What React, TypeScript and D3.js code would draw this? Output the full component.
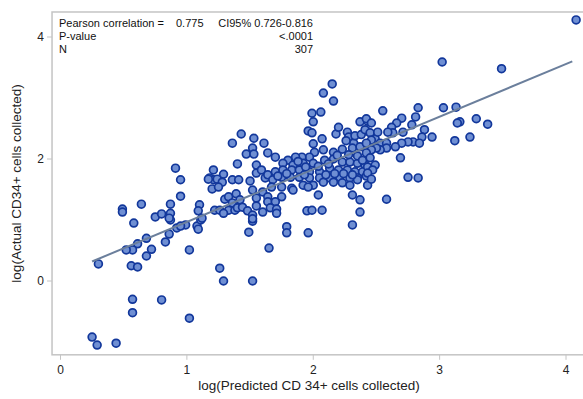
import React from 'react';
import * as d3 from 'd3';

const points: [number, number][] = [
  [0.25, -0.92], [0.29, -1.05], [0.44, -1.02], [0.30, 0.28], [0.57, -0.30], [0.57, -0.52],
  [0.80, -0.31], [1.02, -0.61], [1.29, 0.0], [1.52, 0.0], [1.26, 0.21], [0.56, 0.25],
  [0.61, 0.23], [0.68, 0.41], [0.72, 0.52], [0.61, 0.61], [0.57, 0.51], [0.52, 0.51],
  [0.68, 0.70], [0.83, 0.64], [0.86, 0.77], [0.92, 0.87], [0.99, 0.92], [1.08, 0.90],
  [1.09, 0.85], [1.02, 0.51], [1.11, 1.00], [0.58, 0.95], [0.75, 1.05], [0.87, 1.00],
  [1.49, 0.80], [1.52, 0.98], [1.65, 0.54], [1.79, 0.89], [1.79, 0.79], [1.96, 0.79],
  [2.31, 0.92], [2.58, 1.34], [0.49, 1.18], [0.49, 1.13], [0.64, 1.26], [0.80, 1.10],
  [0.87, 1.26], [0.87, 1.11], [0.86, 1.03], [0.91, 1.85], [0.95, 1.66], [0.95, 1.39],
  [1.10, 1.25], [1.09, 1.15], [1.12, 1.03], [0.95, 0.90],
  [1.36, 2.26], [1.43, 2.41], [1.53, 2.34], [1.61, 2.26], [1.52, 2.18], [1.47, 2.08],
  [1.53, 2.08], [1.64, 2.10], [1.40, 1.92], [1.55, 1.90], [1.21, 1.82], [1.29, 1.75],
  [1.18, 1.69], [1.21, 1.66], [1.24, 1.67], [1.28, 1.62], [1.36, 1.66], [1.41, 1.66],
  [1.50, 1.64], [1.55, 1.77], [1.59, 1.82], [1.62, 1.69], [1.64, 1.74], [1.20, 1.51],
  [1.25, 1.54], [1.52, 1.49], [1.60, 1.46], [1.64, 1.38], [1.30, 1.34], [1.33, 1.38],
  [1.39, 1.43], [1.36, 1.28], [1.42, 1.33], [1.55, 1.36], [1.22, 1.16], [1.26, 1.16],
  [1.33, 1.16], [1.38, 1.16], [1.40, 1.20], [1.44, 1.21], [1.48, 1.15], [1.55, 1.23],
  [1.60, 1.13], [1.52, 1.08], [1.52, 1.02], [1.29, 1.11], [1.17, 1.67],
  [2.15, 3.23], [2.08, 3.08], [2.16, 2.95], [1.99, 2.75], [2.06, 2.77], [2.00, 2.61],
  [1.96, 2.46], [1.99, 2.43], [2.07, 2.33], [2.18, 2.41], [2.20, 2.52], [2.27, 2.44],
  [2.28, 2.36], [2.37, 2.61], [2.43, 2.62], [2.42, 2.46], [2.32, 2.26], [2.31, 2.18],
  [2.37, 2.20], [2.43, 2.16], [2.23, 2.16], [2.16, 2.11], [2.08, 2.15], [2.01, 2.11],
  [1.97, 2.03], [1.91, 2.03], [1.86, 2.03], [1.80, 1.98], [1.76, 1.93], [1.84, 1.90],
  [1.92, 1.93], [2.00, 1.93], [2.09, 1.98], [2.16, 2.00], [2.23, 1.95], [2.29, 1.95],
  [2.35, 1.93], [2.41, 1.90], [1.70, 2.03], [2.00, 2.25], [1.70, 1.79], [1.76, 1.82],
  [1.83, 1.82], [1.89, 1.82], [1.97, 1.79], [2.05, 1.79], [2.13, 1.85], [2.20, 1.82],
  [2.27, 1.82], [2.33, 1.79], [2.39, 1.79], [1.68, 1.66], [1.75, 1.70], [1.82, 1.70],
  [1.89, 1.70], [1.97, 1.69], [2.05, 1.69], [2.13, 1.69], [2.21, 1.70], [2.29, 1.69],
  [2.35, 1.69], [2.42, 1.72], [1.67, 1.54], [1.75, 1.54], [1.83, 1.52], [1.92, 1.57],
  [2.00, 1.57], [2.08, 1.62], [2.16, 1.62], [2.23, 1.61], [2.29, 1.57], [2.35, 1.66],
  [2.43, 1.57], [1.75, 1.38], [1.84, 1.49], [1.96, 1.54], [2.04, 1.41], [2.31, 1.41],
  [2.37, 1.33], [1.64, 1.30], [1.70, 1.30], [1.66, 1.20], [1.71, 1.18], [1.71, 1.11],
  [1.95, 1.15], [1.99, 1.16], [2.07, 1.16], [2.37, 1.13],
  [2.26, 2.30], [2.33, 2.38], [2.38, 2.40], [2.35, 2.05], [2.28, 2.07], [2.19, 2.06],
  [2.12, 1.92], [2.04, 1.88], [1.94, 1.87], [1.88, 1.96], [2.24, 1.76], [2.31, 1.74],
  [2.17, 1.76], [2.10, 1.74], [1.93, 1.74], [1.79, 1.76], [1.72, 1.72], [2.39, 1.98],
  [2.45, 2.22], [2.49, 2.33],
  [2.55, 2.79], [2.83, 2.84], [3.03, 2.84], [3.13, 2.85], [2.81, 2.69], [2.70, 2.67],
  [2.42, 2.66], [2.46, 2.59], [2.66, 2.59], [2.62, 2.52], [2.78, 2.56], [2.88, 2.48],
  [3.16, 2.61], [3.14, 2.59], [3.29, 2.66], [3.38, 2.57], [2.94, 2.36], [2.86, 2.36],
  [2.79, 2.28], [2.75, 2.28], [2.70, 2.26], [2.63, 2.43], [2.59, 2.44], [2.41, 2.48],
  [2.45, 2.43], [2.51, 2.44], [2.46, 2.31], [2.42, 2.26], [2.53, 2.26], [2.58, 2.26],
  [2.65, 2.20], [2.58, 2.18], [2.53, 2.15], [2.50, 2.18], [2.46, 2.15], [2.42, 2.10],
  [2.84, 2.26], [2.71, 2.44], [3.12, 2.30], [3.24, 2.36], [2.45, 2.02], [2.43, 1.87],
  [2.49, 1.90], [2.47, 1.82], [2.43, 1.77], [2.46, 1.67], [2.69, 2.02], [2.75, 1.70],
  [2.83, 1.69], [3.02, 3.59], [3.49, 3.48], [4.08, 4.28],
];

// fitted line end points
const fitX = [0.25, 4.05];
const fitY = [0.32, 3.6];

const xTicks = [0, 1, 2, 3, 4];
const yTicks = [0, 2, 4];

const stats = [
  { label: 'P-value', value: '<.0001' },
  { label: 'N', value: '307' },
];

const W = 583;
const H = 399;

export default function App() {
  const x = d3.scaleLinear().domain([0, 4]).range([60.5, 566]);
  const y = d3.scaleLinear().domain([0, 4]).range([281, 37]);

  const left = x(-0.067);
  const right = x(4.25);
  const top = y(4.41);
  const bottom = y(-1.21);

  const fit = d3.line<number>().x((d) => x(d)).y((_, i) => y(fitY[i]));

  const font = 'Arial, "Liberation Sans", sans-serif';
  const axisGray = '#c4c4c4';

  return (
    <svg width={W} height={H} style={{ position: 'absolute', left: 0, top: 0, fontFamily: font }}>
      <rect width={W} height={H} fill="white" />
      <rect x={left} y={top} width={right - left} height={bottom - top} fill="none" stroke={axisGray} strokeWidth={1.5} />

      {xTicks.map((t) => (
        <g key={t}>
          <line x1={x(t)} x2={x(t)} y1={bottom} y2={bottom + 5} stroke={axisGray} strokeWidth={1} />
          <text x={x(t)} y={bottom + 19} textAnchor="middle" fontSize={12} fill="#222">{t}</text>
        </g>
      ))}
      {yTicks.map((t) => (
        <g key={t}>
          <line x1={left - 5} x2={left} y1={y(t)} y2={y(t)} stroke={axisGray} strokeWidth={1} />
          <text x={left - 8} y={y(t) + 4} textAnchor="end" fontSize={12} fill="#222">{t}</text>
        </g>
      ))}

      <text x={(left + 566) / 2} y={390} textAnchor="middle" fontSize={13.5} fill="#222">
        log(Predicted CD 34+ cells collected)
      </text>
      <text transform={`translate(21, ${(top + bottom) / 2}) rotate(-90)`} textAnchor="middle" fontSize={13.5} fill="#222">
        log(Actual CD34+ cells collected)
      </text>

      {points.map(([px, py], i) => (
        <circle key={i} cx={x(px)} cy={y(py)} r={3.9} fill="#6f8fd3" stroke="#12379b" strokeWidth={1.7} />
      ))}

      <path d={fit(fitX) || ''} fill="none" stroke="#6b7f9c" strokeWidth={2} />

      <g fontSize={11} fill="#111">
        <text x={59} y={27}>Pearson correlation =</text>
        <text x={176} y={27}>0.775</text>
        <text x={313} y={27} textAnchor="end">CI95% 0.726-0.816</text>
        {stats.map((s, i) => (
          <g key={s.label}>
            <text x={59} y={40 + i * 13}>{s.label}</text>
            <text x={313} y={40 + i * 13} textAnchor="end">{s.value}</text>
          </g>
        ))}
      </g>
    </svg>
  );
}
